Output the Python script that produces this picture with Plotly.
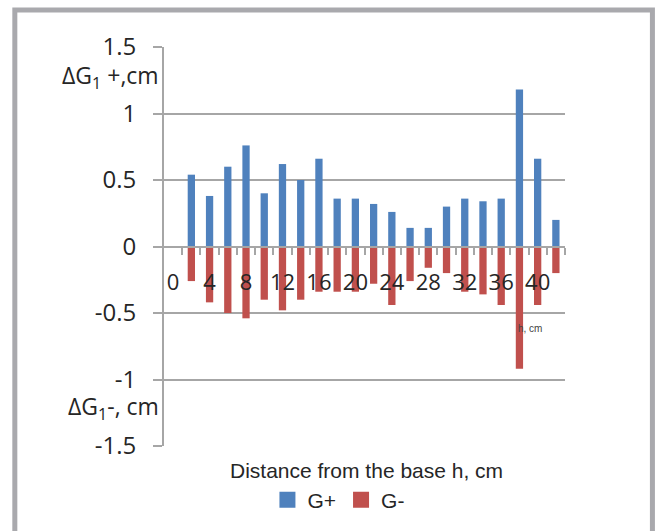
import plotly.graph_objects as go

# Data
h_cm = [2, 4, 6, 8, 10, 12, 14, 16, 18, 20, 22, 24, 26, 28, 30, 32, 34, 36, 38, 40, 42]
g_plus = [0.54, 0.38, 0.60, 0.76, 0.40, 0.62, 0.50, 0.66, 0.36, 0.36, 0.32,
          0.26, 0.14, 0.14, 0.30, 0.36, 0.34, 0.36, 1.18, 0.66, 0.20]
g_minus = [-0.26, -0.42, -0.50, -0.54, -0.40, -0.48, -0.40, -0.34, -0.34, -0.34, -0.28,
           -0.44, -0.26, -0.16, -0.20, -0.34, -0.36, -0.44, -0.92, -0.44, -0.20]
x_tick_vals = [0, 4, 8, 12, 16, 20, 24, 28, 32, 36, 40]
x_tick_text = [str(v) for v in x_tick_vals]
x_boundaries = [1, 3, 5, 7, 9, 11, 13, 15, 17, 19, 21, 23, 25, 27, 29, 31, 33, 35, 37, 39, 41, 43]
y_tick_vals = [1.5, 1, 0.5, 0, -0.5, -1, -1.5]
y_tick_text = ["1.5", "1", "0.5", "0", "-0.5", "-1", "-1.5"]
series_names = ["G+", "G-"]

BLUE = "#4F81BD"
RED = "#C0504D"
GRID = "#a6a6a6"
TXT = "#262626"

fig = go.Figure()
fig.add_trace(go.Bar(x=h_cm, y=g_plus, name=series_names[0], width=0.8, showlegend=False,
                     marker=dict(color=BLUE, line=dict(width=0))))
fig.add_trace(go.Bar(x=h_cm, y=g_minus, name=series_names[1], width=0.8, showlegend=False,
                     marker=dict(color=RED, line=dict(width=0))))
# legend-only entries (larger square keys, as in the reference)
for nm, col in zip(series_names, [BLUE, RED]):
    fig.add_trace(go.Scatter(x=[None], y=[None], mode="markers", name=nm,
                             marker=dict(symbol="square", size=16, color=col)))

fig.update_layout(
    width=656, height=531,
    margin=dict(l=164, r=91, t=47, b=84),
    paper_bgcolor="white", plot_bgcolor="white",
    barmode="overlay",
    font=dict(family="Open Sans, Liberation Sans, sans-serif", size=20, color=TXT),
    showlegend=True,
    legend=dict(orientation="h", x=0.435, xanchor="center", y=-0.1325, yanchor="middle",
                font=dict(family="Liberation Sans, Arial, sans-serif", size=21, color=TXT),
                itemwidth=30, tracegroupgap=0, bgcolor="rgba(0,0,0,0)"),
    xaxis=dict(
        range=[-1, 43], anchor="free", position=0.5,
        tickmode="array", tickvals=x_tick_vals, ticktext=x_tick_text,
        ticks="outside", ticklen=0, tickcolor=GRID,
        ticklabelstandoff=16,
        tickfont=dict(family="Open Sans, sans-serif", size=22, color=TXT),
        showgrid=False, zeroline=False,
        showline=True, linecolor=GRID, linewidth=2,
        minor=dict(tickmode="array", tickvals=x_boundaries, ticks="outside",
                   ticklen=7, tickwidth=2, tickcolor=GRID, showgrid=False),
    ),
    yaxis=dict(
        range=[-1.5, 1.5],
        tickmode="array", tickvals=y_tick_vals, ticktext=y_tick_text,
        ticks="outside", ticklen=9, tickwidth=2, tickcolor=GRID,
        ticklabelstandoff=12,
        tickfont=dict(family="Open Sans, sans-serif", size=24, color=TXT),
        showgrid=True, gridcolor=GRID, gridwidth=2,
        zeroline=True, zerolinecolor=GRID, zerolinewidth=2,
        showline=True, linecolor=GRID, linewidth=2,
    ),
    annotations=[
        dict(text="ΔG<sub>1</sub> +,cm", xref="paper", yref="paper", x=-0.008, y=0.926,
             xanchor="right", yanchor="middle", showarrow=False,
             font=dict(family="Open Sans, sans-serif", size=23, color=TXT)),
        dict(text="ΔG<sub>1</sub>-, cm", xref="paper", yref="paper", x=-0.008, y=0.0975,
             xanchor="right", yanchor="middle", showarrow=False,
             font=dict(family="Open Sans, sans-serif", size=23, color=TXT)),
        dict(text="Distance from the base h, cm", xref="paper", yref="paper", x=0.506, y=-0.0625,
             xanchor="center", yanchor="middle", showarrow=False,
             font=dict(family="Liberation Sans, Arial, sans-serif", size=21, color=TXT)),
        dict(text="h, cm", xref="x", yref="y", x=39.2, y=-0.615,
             xanchor="center", yanchor="middle", showarrow=False,
             font=dict(family="Liberation Sans, Arial, sans-serif", size=10, color="#444")),
    ],
    shapes=[
        dict(type="rect", xref="paper", yref="paper", x0=-0.372, x1=1.218, y0=-0.35, y1=1.0925,
             line=dict(color="#a9a9ad", width=5), fillcolor="rgba(0,0,0,0)", layer="above"),
    ],
)

fig.write_html(
    "out.html",
    config={"displayModeBar": False},
    post_script="document.body.style.margin='0';document.body.style.overflow='hidden';",
)
